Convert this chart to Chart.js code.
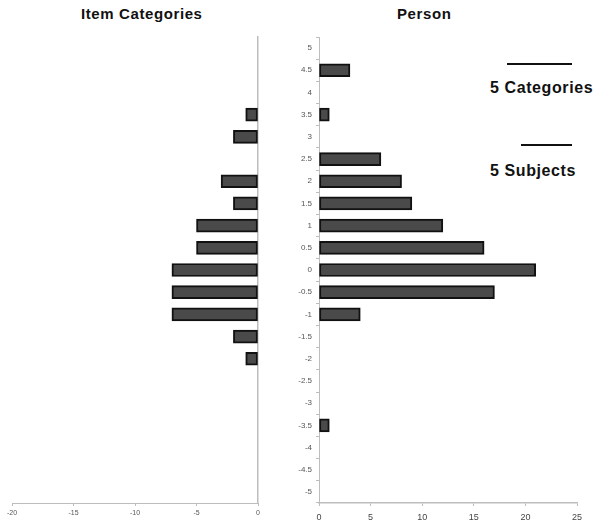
<!DOCTYPE html>
<html>
<head>
<meta charset="utf-8">
<script src="https://cdn.jsdelivr.net/npm/chart.js@4.4.0/dist/chart.umd.min.js"></script>
<style>
  body { margin: 0; background: #fff; width: 600px; height: 526px; position: relative; overflow: hidden;
         font-family: "Liberation Sans", Arial, sans-serif; }
  .box { position: absolute; top: 0; }
  .title { position: absolute; font-weight: bold; font-size: 15px; color: #111; letter-spacing: 0.6px; }
  .key { position: absolute; font-weight: bold; font-size: 16px; color: #111; letter-spacing: 0.6px; }
  .rule { position: absolute; height: 0; border-top: 2px solid #111; }
</style>
</head>
<body>
<div class="title" style="left:81px; top:5px;">Item Categories</div>
<div class="title" style="left:397px; top:5px;">Person</div>

<div class="rule" style="left:507px; top:63px; width:65px;"></div>
<div class="key" style="left:490px; top:79px;">5 Categories</div>
<div class="rule" style="left:521px; top:144px; width:51px;"></div>
<div class="key" style="left:490px; top:162px;">5 Subjects</div>

<div class="box" style="left:0; width:290px; height:526px;"><canvas id="chart-items"></canvas></div>
<div class="box" style="left:280px; width:320px; height:526px;"><canvas id="chart-person"></canvas></div>

<script>
(function () {
  'use strict';

  // logit levels, top to bottom
  const levels = ['5', '4.5', '4', '3.5', '3', '2.5', '2', '1.5', '1', '0.5', '0',
                  '-0.5', '-1', '-1.5', '-2', '-2.5', '-3', '-3.5', '-4', '-4.5', '-5'];
  // item category counts per level (drawn to the left)
  const itemCounts = [0, 0, 0, 1, 2, 0, 3, 2, 5, 5, 7, 7, 7, 2, 1, 0, 0, 0, 0, 0, 0];
  // person counts per level
  const personCounts = [0, 3, 0, 1, 0, 6, 8, 9, 12, 16, 21, 17, 4, 0, 0, 0, 0, 1, 0, 0, 0];

  const itemTicks = [-20, -15, -10, -5, 0];
  const personTicks = [0, 5, 10, 15, 20, 25];

  const AXIS = '#bdbdbd';
  const BAR = '#4a4a4a';
  const FONT = "'Liberation Sans', Arial, sans-serif";

  Chart.defaults.font.family = FONT;
  Chart.defaults.color = '#444';

  const noZero = (arr) => arr.map(v => (v === 0 ? null : v));

  const barSet = (data) => ({
    data: data,
    backgroundColor: BAR,
    borderColor: '#111',
    borderWidth: 2,
    barThickness: 13,
    borderSkipped: false,
  });

  const common = {
    indexAxis: 'y',
    responsive: true,
    maintainAspectRatio: false,
    animation: false,
    plugins: { legend: { display: false }, tooltip: { enabled: false } },
  };

  // left: item categories
  new Chart(document.getElementById('chart-items'), {
    type: 'bar',
    data: { labels: levels, datasets: [barSet(noZero(itemCounts).map(v => (v === null ? null : -v)))] },
    options: Object.assign({}, common, {
      layout: { padding: { top: 37, left: 12, right: 32, bottom: 0 } },
      scales: {
        x: {
          min: itemTicks[0], max: itemTicks[itemTicks.length - 1],
          afterBuildTicks: (s) => { s.ticks = itemTicks.map(v => ({ value: v })); },
          afterFit: (s) => { s.height = 23; },
          border: { display: true, color: AXIS, width: 1 },
          grid: { display: true, drawOnChartArea: false, drawTicks: true, tickLength: 3, color: AXIS },
          ticks: { font: { size: 7 }, padding: 3, color: '#555' },
        },
        y: {
          position: 'right',
          afterFit: (s) => { s.width = 0; },
          border: { display: true, color: AXIS, width: 1.5 },
          grid: { display: false },
          ticks: { display: false },
        },
      },
    }),
  });

  // right: persons
  new Chart(document.getElementById('chart-person'), {
    type: 'bar',
    data: { labels: levels, datasets: [barSet(noZero(personCounts))] },
    options: Object.assign({}, common, {
      layout: { padding: { top: 37, left: 0, right: 23, bottom: 0 } },
      scales: {
        x: {
          min: personTicks[0], max: personTicks[personTicks.length - 1],
          afterBuildTicks: (s) => { s.ticks = personTicks.map(v => ({ value: v })); },
          afterFit: (s) => { s.height = 23; },
          border: { display: true, color: AXIS, width: 1.5 },
          grid: { display: true, drawOnChartArea: false, drawTicks: true, tickLength: 3, color: AXIS },
          ticks: { font: { size: 9 }, padding: 6, color: '#444' },
        },
        y: {
          afterFit: (s) => { s.width = 39; },
          border: { display: true, color: AXIS, width: 1 },
          grid: { display: true, drawOnChartArea: false, drawTicks: true, tickLength: 3, color: AXIS, offset: true },
          ticks: { font: { size: 8 }, padding: 4, color: '#555' },
        },
      },
    }),
  });
})();
</script>
</body>
</html>
